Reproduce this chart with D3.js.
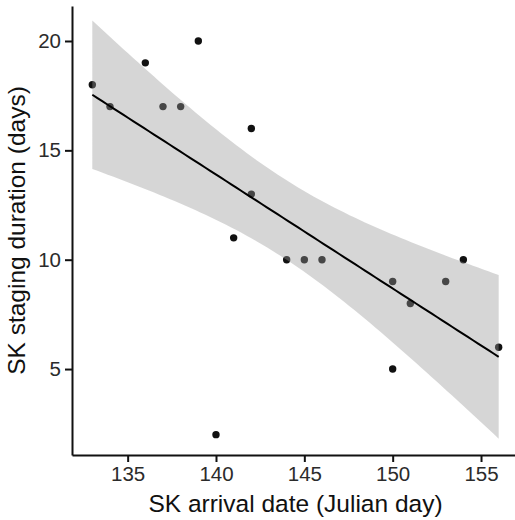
<!DOCTYPE html>
<html>
<head>
<meta charset="utf-8">
<script src="https://cdn.jsdelivr.net/npm/d3@7"></script>
<style>
  body { margin: 0; background: white; }
</style>
</head>
<body>
<script>
const POLICE = 'Liberation Sans, Arial, sans-serif'

// arrival date (Julian day) and staging duration (days)
const arrivalDay = [133, 134, 136, 137, 138, 139, 140, 141, 142, 142, 144, 145, 146, 150, 150, 151, 153, 154, 156]
const stagingDays = [18, 17, 19, 17, 17, 20, 2, 11, 16, 13, 10, 10, 10, 9, 5, 8, 9, 10, 6]
const xTicks = [135, 140, 145, 150, 155]
const yTicks = [5, 10, 15, 20]
const yLimits = [1.07, 21.6]
const T_975_DF17 = 2.1098

const width = 515, height = 520
const panel = { left: 72, top: 6, right: 519, bottom: 455 }

const svg = d3.select('body').append('svg')
    .attr('width', width).attr('height', height)

// linear fit + 95% confidence band (like geom_smooth(method = 'lm'))
const n = arrivalDay.length
const mx = d3.mean(arrivalDay), my = d3.mean(stagingDays)
let sxx = 0, sxy = 0
arrivalDay.forEach((x, i) => { sxx += (x - mx) ** 2; sxy += (x - mx) * (stagingDays[i] - my) })
const slope = sxy / sxx, intercept = my - slope * mx
const rss = d3.sum(arrivalDay, (x, i) => (stagingDays[i] - (intercept + slope * x)) ** 2)
const sigma = Math.sqrt(rss / (n - 2))
const xExtent = d3.extent(arrivalDay)
const band = d3.range(80).map(k => {
    const x = xExtent[0] + (xExtent[1] - xExtent[0]) * k / 79
    const fit = intercept + slope * x
    const se = sigma * Math.sqrt(1 / n + (x - mx) ** 2 / sxx)
    return { x: x, fit: fit, lo: fit - T_975_DF17 * se, hi: fit + T_975_DF17 * se }
})

//ggplot style 5% expansion on x
const expand = (lo, hi) => { const d = (hi - lo) * 0.05; return [lo - d, hi + d] }

const x = d3.scaleLinear().domain(expand(xExtent[0], xExtent[1])).range([panel.left, panel.right])
const y = d3.scaleLinear().domain(yLimits).range([panel.bottom, panel.top])

// points first, ribbon goes over them with alpha
svg.append('g').selectAll('circle')
    .data(arrivalDay)
    .join('circle')
    .attr('cx', d => x(d)).attr('cy', (d, i) => y(stagingDays[i]))
    .attr('r', 3.7).attr('fill', '#111')

svg.append('path')
    .datum(band)
    .attr('d', d3.area().x(d => x(d.x)).y0(d => y(d.lo)).y1(d => y(d.hi)))
    .attr('fill', '#999999').attr('fill-opacity', 0.4)

svg.append('path')
    .datum(band)
    .attr('d', d3.line().x(d => x(d.x)).y(d => y(d.fit)))
    .attr('fill', 'none').attr('stroke', '#000').attr('stroke-width', 2)

//Axes
const xAxis = svg.append('g')
    .attr('transform', `translate(0,${panel.bottom})`)
    .call(d3.axisBottom(x).tickValues(xTicks).tickSize(7).tickSizeOuter(0).tickPadding(4))
const yAxis = svg.append('g')
    .attr('transform', `translate(${panel.left},0)`)
    .call(d3.axisLeft(y).tickValues(yTicks).tickSize(7).tickSizeOuter(0).tickPadding(4))

for (const ax of [xAxis, yAxis]) {
    ax.select('.domain').attr('stroke', '#111').attr('stroke-width', 2)
    ax.selectAll('.tick line').attr('stroke', '#111').attr('stroke-width', 2)
    ax.selectAll('.tick text').attr('font-family', POLICE).attr('font-size', 20.5).attr('fill', '#2b2b2b')
}

//Titres
svg.append('text')
    .text('SK arrival date (Julian day)')
    .attr('font-family', POLICE).attr('font-size', 24.5).attr('fill', '#111')
    .attr('text-anchor', 'middle').attr('x', (panel.left + panel.right) / 2).attr('y', 512)
svg.append('text')
    .text('SK staging duration (days)')
    .attr('font-family', POLICE).attr('font-size', 24.5).attr('fill', '#111')
    .attr('text-anchor', 'middle')
    .attr('transform', `translate(25,${(panel.top + panel.bottom) / 2}) rotate(-90)`)
</script>
</body>
</html>
